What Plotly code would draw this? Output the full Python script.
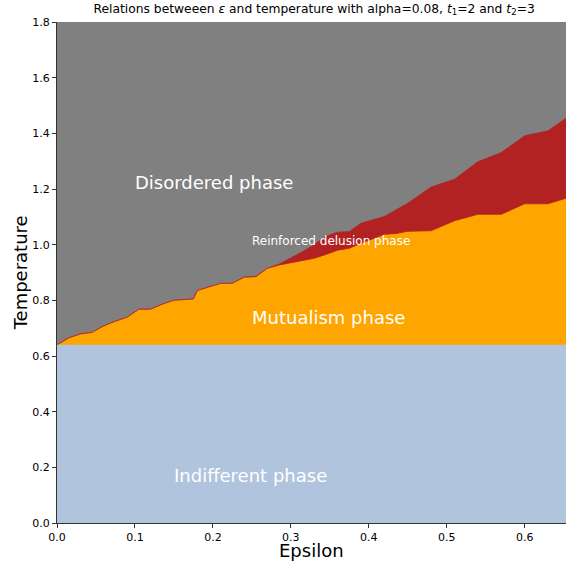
import plotly.graph_objects as go

# Phase boundaries as a function of epsilon
epsilon = [0.0, 0.015, 0.03, 0.045, 0.06, 0.075, 0.09, 0.105, 0.12, 0.135,
           0.15, 0.165, 0.175, 0.18, 0.21, 0.225, 0.24, 0.255, 0.27, 0.285,
           0.30, 0.315, 0.33, 0.345, 0.36, 0.375, 0.39, 0.42, 0.435, 0.45,
           0.48, 0.51, 0.54, 0.57, 0.60, 0.63, 0.653]
# upper temperature of the mutualism phase
t_mutualism = [0.64, 0.665, 0.679, 0.685, 0.708, 0.725, 0.739, 0.768, 0.768, 0.786,
               0.800, 0.802, 0.805, 0.835, 0.861, 0.861, 0.883, 0.885, 0.915, 0.927,
               0.935, 0.945, 0.951, 0.965, 0.980, 0.987, 1.005, 1.037, 1.040, 1.048,
               1.050, 1.086, 1.109, 1.109, 1.147, 1.147, 1.167]
# upper temperature of the reinforced delusion phase
t_delusion = [0.64, 0.665, 0.679, 0.685, 0.708, 0.725, 0.739, 0.768, 0.768, 0.786,
              0.800, 0.802, 0.805, 0.835, 0.861, 0.861, 0.883, 0.885, 0.915, 0.930,
              0.951, 0.975, 1.000, 1.030, 1.045, 1.047, 1.077, 1.101, 1.125, 1.149,
              1.207, 1.235, 1.298, 1.331, 1.391, 1.409, 1.454]
# the indifferent phase lies below a constant temperature
t_indifferent = 0.64

x_ticks = [0.0, 0.1, 0.2, 0.3, 0.4, 0.5, 0.6]
y_ticks = [0.0, 0.2, 0.4, 0.6, 0.8, 1.0, 1.2, 1.4, 1.6, 1.8]

FONT = "DejaVu Sans"

fig = go.Figure()
fig.add_trace(go.Scatter(x=epsilon, y=t_delusion, mode="lines", fill="tozeroy",
                         fillcolor="#b22222", line=dict(color="#b22222", width=0.8),
                         hoverinfo="skip", showlegend=False))
fig.add_trace(go.Scatter(x=epsilon, y=t_mutualism, mode="lines", fill="tozeroy",
                         fillcolor="#ffa500", line=dict(color="#b22222", width=0.8),
                         hoverinfo="skip", showlegend=False))
fig.add_trace(go.Scatter(x=epsilon, y=[t_indifferent] * len(epsilon), mode="lines",
                         fill="tozeroy", fillcolor="#b0c4de",
                         line=dict(color="#b0c4de", width=0),
                         hoverinfo="skip", showlegend=False))

labels = [
    ("Disordered phase", 0.1, 1.222, 18),
    ("Reinforced delusion phase", 0.25, 1.013, 12),
    ("Mutualism phase", 0.25, 0.74, 18),
    ("Indifferent phase", 0.15, 0.169, 18),
]
for text, x, y, size in labels:
    fig.add_annotation(x=x, y=y, text=text, showarrow=False, xanchor="left",
                       yanchor="middle", xshift=-2,
                       font=dict(family=FONT, size=size, color="white"))

# axis titles, placed as paper-anchored text
fig.add_annotation(text="Epsilon", xref="paper", yref="paper", x=0.5, y=-0.054,
                   xanchor="center", yanchor="middle", showarrow=False,
                   font=dict(family=FONT, size=18, color="black"))
fig.add_annotation(text="Temperature", xref="paper", yref="paper", x=-0.071, y=0.5,
                   xanchor="center", yanchor="middle", textangle=-90, showarrow=False,
                   font=dict(family=FONT, size=18, color="black"))

fig.update_layout(
    width=566, height=563,
    margin=dict(l=57, r=0, t=22, b=40),
    paper_bgcolor="white", plot_bgcolor="#808080",
    font=dict(family=FONT, size=11, color="black"),
    title=dict(text="Relations betweeen <i>ε</i> and temperature with alpha=0.08, "
                    "<i>t</i><sub>1</sub>=2 and <i>t</i><sub>2</sub>=3",
               x=0.555, xanchor="center", y=0.985, yanchor="middle",
               font=dict(family=FONT, size=12.3, color="black")),
    xaxis=dict(range=[0, 0.653], tickvals=x_ticks, ticktext=[f"{v:.1f}" for v in x_ticks],
               showgrid=False, zeroline=False, showline=True, linecolor="#333", linewidth=1,
               ticks="outside", ticklen=4, tickcolor="#333"),
    yaxis=dict(range=[0, 1.8], tickvals=y_ticks, ticktext=[f"{v:.1f}" for v in y_ticks],
               showgrid=False, zeroline=False, showline=True, linecolor="#333", linewidth=1,
               ticks="outside", ticklen=4, tickcolor="#333"),
)

fig.write_html("out.html")
